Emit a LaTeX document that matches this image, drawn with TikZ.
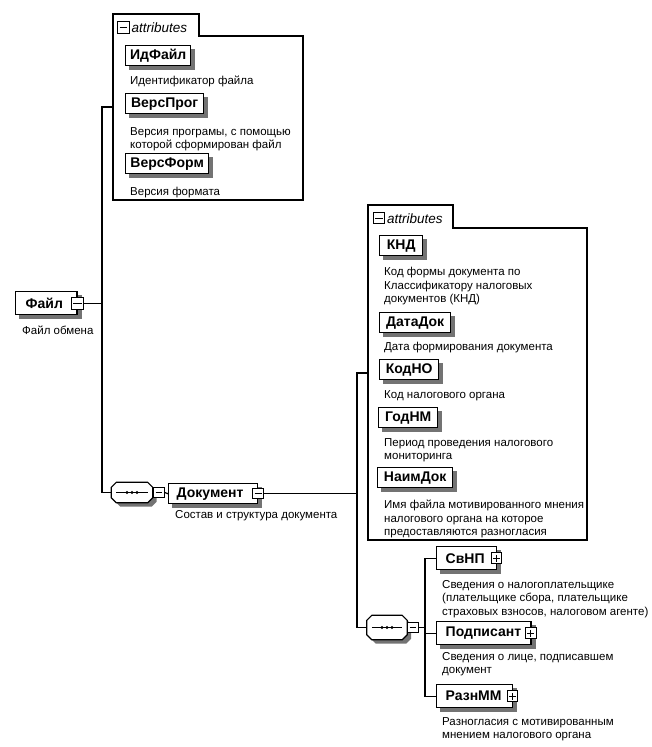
\documentclass[tikz,border=0pt]{standalone}
\usepackage{fontspec}
\setmainfont{Liberation Sans}
\usetikzlibrary{backgrounds,calc}
\begin{document}
\begin{tikzpicture}[x=1pt,y=-1pt,
 shadowfill/.style={fill=black!55,draw=none},
 elem/.style={draw,line width=1.4pt,fill=white,font=\fontsize{14}{16}\selectfont\bfseries,inner sep=0pt,minimum height=20pt,anchor=north west},
 pmelem/.style={elem,minimum height=23pt},
 desc/.style={font=\fontsize{11.5}{13.5}\selectfont,align=left,anchor=north west,inner sep=0pt},
 tabtext/.style={font=\fontsize{13.5}{15}\selectfont\itshape,inner sep=0pt,anchor=base west},
 container/.style={draw,line width=1.1pt},
 conn/.style={draw,line width=1.2pt},
 pmbox/.style={draw,line width=1pt,fill=white,minimum size=10.5pt,inner sep=0pt},
 minussign/.style={pmbox,path picture={\draw[line width=1pt] ([xshift=1.8pt]path picture bounding box.west) -- ([xshift=-1.8pt]path picture bounding box.east);}},
 plussign/.style={pmbox,path picture={\draw[line width=1pt] ([xshift=1.8pt]path picture bounding box.west) -- ([xshift=-1.8pt]path picture bounding box.east); \draw[line width=1pt] ([yshift=-1.8pt]path picture bounding box.north) -- ([yshift=1.8pt]path picture bounding box.south);}},
 seqbox/.style={minimum width=41pt,minimum height=20pt,inner sep=0pt}
]
\useasboundingbox (0,0) rectangle (652,747);

% ---------- container 1 ----------
\draw[container] (113,200) -- (113,14) -- (199,14) -- (199,36) -- (303,36) -- (303,200) -- cycle;
\node[minussign,minimum size=11.5pt] (t1m) at (123.5,27.5) {};
\node[tabtext] (t1t) at (131.5,32.5) {attributes};

\node[elem,minimum width=65pt] (idf) at (125,45) {ИдФайл};
\node[desc] (idfd) at (130,76) {Идентификатор файла};
\node[elem,minimum width=78pt] (vp) at (125,93) {ВерсПрог};
\node[desc] (vpd) at (130,127) {Версия програмы, с помощью\\которой сформирован файл};
\node[elem,minimum width=83pt] (vf) at (125,153) {ВерсФорм};
\node[desc] (vfd) at (130,187) {Версия формата};

% ---------- root ----------
\node[pmelem,inner xsep=0pt] (file) at (15,291) {\hspace*{10pt}Файл\hspace*{14pt}};
\node[minussign,minimum size=12pt] (filem) at (file.east) {};
\node[desc] (filed) at (22,326) {Файл обмена};

\coordinate (c1in) at (113,107);
\coordinate (j1) at (102,302.5);
\draw[conn] (filem.east) -- (filem.east -| j1);
\draw[conn] (c1in) -| (j1);

% ---------- sequence 1 ----------
\node[seqbox] (seq1) at (132,492.5) {};
\draw[line width=1.2pt,fill=white]
  ([xshift=5pt]seq1.north west) -- ([xshift=-5pt]seq1.north east) -- ([yshift=-5pt]seq1.north east)
  -- ([yshift=5pt]seq1.south east) -- ([xshift=-5pt]seq1.south east) -- ([xshift=5pt]seq1.south west)
  -- ([yshift=5pt]seq1.south west) -- ([yshift=-5pt]seq1.north west) -- cycle;
\draw[line width=1pt] ([xshift=5pt]seq1.west) -- ([xshift=-5pt]seq1.east);
\foreach \d in {-5,0,5} \fill ([xshift=\d pt]seq1.center) circle (1.7pt);
\node[minussign] (seq1m) at (159,492.5) {};
\draw[conn] (j1) |- (seq1.west);
\draw[conn] (seq1.east) -- (seq1m.west);

\node[pmelem,inner xsep=0pt,minimum height=20pt] (doc) at (168,483) {\hspace*{8pt}Документ\hspace*{14pt}};
\node[minussign] (docm) at (doc.east) {};
\node[desc] (docd) at (175,510) {Состав и структура документа};
\draw[conn] (seq1m.east) -- (doc.west);

\coordinate (j2) at (357,493);
\coordinate (c2in) at (368,373);
\draw[conn] (docm.east) -- (docm.east -| j2);
\draw[conn] (c2in) -| (j2);

% ---------- container 2 ----------
\draw[container] (368,540) -- (368,205) -- (453,205) -- (453,228) -- (587,228) -- (587,540) -- cycle;
\node[minussign,minimum size=11.5pt] (t2m) at (379,218) {};
\node[tabtext] (t2t) at (387,223) {attributes};

\node[elem,minimum width=43pt] (knd) at (379,235) {КНД};
\node[desc] (kndd) at (384,267) {Код формы документа по\\Классификатору налоговых\\документов (КНД)};
\node[elem,minimum width=71pt] (dd) at (379,312) {ДатаДок};
\node[desc] (ddd) at (384,342) {Дата формирования документа};
\node[elem,minimum width=59pt] (kno) at (379,359) {КодНО};
\node[desc] (knod) at (384,390) {Код налогового органа};
\node[elem,minimum width=59pt] (gnm) at (378,407) {ГодНМ};
\node[desc] (gnmd) at (384,438) {Период проведения налогового\\мониторинга};
\node[elem,minimum width=75pt] (nd) at (377,467) {НаимДок};
\node[desc] (ndd) at (384,500) {Имя файла мотивированного мнения\\налогового органа на которое\\предоставляются разногласия};

% ---------- sequence 2 ----------
\node[seqbox,minimum width=40pt,minimum height=24pt] (seq2) at (387,627.5) {};
\draw[line width=1.2pt,fill=white]
  ([xshift=5pt]seq2.north west) -- ([xshift=-5pt]seq2.north east) -- ([yshift=-5pt]seq2.north east)
  -- ([yshift=5pt]seq2.south east) -- ([xshift=-5pt]seq2.south east) -- ([xshift=5pt]seq2.south west)
  -- ([yshift=5pt]seq2.south west) -- ([yshift=-5pt]seq2.north west) -- cycle;
\draw[line width=1pt] ([xshift=5pt]seq2.west) -- ([xshift=-5pt]seq2.east);
\foreach \d in {-5,0,5} \fill ([xshift=\d pt]seq2.center) circle (1.7pt);
\node[minussign] (seq2m) at (413,627.5) {};
\draw[conn] (j2) |- (seq2.west);
\draw[conn] (seq2.east) -- (seq2m.west);
\coordinate (j3) at (425,627.5);
\draw[conn] (seq2m.east) -- (j3);

\node[pmelem,inner xsep=0pt] (svnp) at (436,546) {\hspace*{9pt}СвНП\hspace*{12pt}};
\node[plussign] (svnpp) at ([xshift=-1pt]svnp.east) {};
\node[desc] (svnpd) at (442,580) {Сведения о налогоплательщике\\(плательщике сбора, плательщике\\страховых взносов, налоговом агенте)};
\node[pmelem,inner xsep=0pt] (podp) at (436,621) {\hspace*{9pt}Подписант\hspace*{10pt}};
\node[plussign] (podpp) at ([xshift=-1pt]podp.east) {};
\node[desc] (podpd) at (442,652) {Сведения о лице, подписавшем\\документ};
\node[pmelem,inner xsep=0pt] (razn) at (436,684) {\hspace*{9pt}РазнММ\hspace*{11pt}};
\node[plussign] (raznp) at ([xshift=-1pt]razn.east) {};
\node[desc] (razndd) at (442,717) {Разногласия с мотивированным\\мнением налогового органа};

\draw[conn] (j3) |- (svnp.west);
\draw[conn] (j3) |- (podp.west);
\draw[conn] (j3) |- (razn.west);

% ---------- shadows ----------
\begin{pgfonlayer}{background}
\foreach \n in {idf,vp,vf,file,doc,knd,dd,kno,gnm,nd,svnp,podp,razn}
  \fill[shadowfill] ($(\n.south west)+(4,4)$) rectangle ($(\n.north east)+(4,4)$);
\foreach \s in {seq1,seq2}
  \fill[shadowfill]
  ($(\s.north west)+(9,4)$) -- ($(\s.north east)+(-1,4)$) -- ($(\s.north east)+(4,9)$)
  -- ($(\s.south east)+(4,-1)$) -- ($(\s.south east)+(-1,4)$) -- ($(\s.south west)+(9,4)$)
  -- ($(\s.south west)+(4,-1)$) -- ($(\s.north west)+(4,9)$) -- cycle;
\end{pgfonlayer}
\end{tikzpicture}
\end{document}
